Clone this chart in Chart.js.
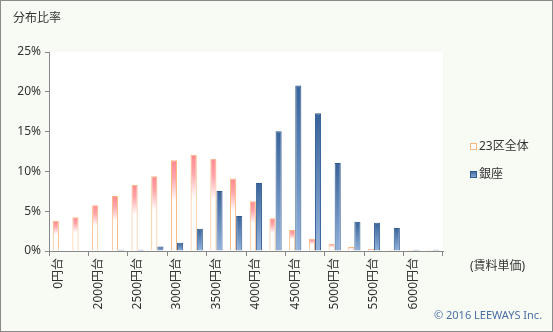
<!DOCTYPE html>
<html>
<head>
<meta charset="utf-8">
<script src="https://cdn.jsdelivr.net/npm/chart.js@4"></script>
<style>
  html, body { margin: 0; padding: 0; background: #fff; }
  #wrap { width: 553px; height: 332px; }
</style>
</head>
<body>
<div id="wrap"><canvas id="rentChart" width="553" height="332"></canvas></div>
<script>
// 賃料単価の区分 (250円刻み、ラベルは1つおき)
const categories = ["0円台","1750円台","2000円台","2250円台","2500円台","2750円台","3000円台","3250円台","3500円台","3750円台",
    "4000円台","4250円台","4500円台","4750円台","5000円台","5250円台","5500円台","5750円台","6000円台","6250円台"];
const wardsAll = [3.8, 4.25, 5.75, 6.9, 8.3, 9.4, 11.4, 12.1, 11.6, 9.1,
    6.25, 4.1, 2.65, 1.55, 0.9, 0.5, 0.25, 0.15, 0.15, 0.15];
const ginza = [0, 0, 0, 0.15, 0.15, 0.55, 1.05, 2.8, 7.55, 4.4,
    8.55, 15.05, 20.8, 17.3, 11.05, 3.67, 3.55, 2.9, 0.15, 0.15];
const yTicks = [0, 5, 10, 15, 20, 25];
const seriesNames = ["23区全体", "銀座"];

const FONT = '"Noto Sans", "Noto Sans CJK JP", sans-serif';

function barGradient(ctx, stops, fallback){
    const chart = ctx.chart;
    if(!chart.chartArea || ctx.parsed === undefined) return fallback;
    const y = chart.scales.y;
    const top = y.getPixelForValue(ctx.parsed.y);
    const bottom = y.getPixelForValue(0);
    if(bottom - top < 1) return fallback;
    const g = chart.ctx.createLinearGradient(0, top, 0, bottom);
    stops.forEach(s => g.addColorStop(s[0], s[1]));
    return g;
}

const pinkStops = [[0, "#ff8a90"], [0.18, "#ffa3a8"], [0.45, "#ffffff"], [1, "#ffffff"]];
const blueStops = [[0, "#386399"], [1, "#93b3dc"]];

const decor = {
    id: "decor",
    beforeDraw(chart){
        const c = chart.ctx, a = chart.chartArea;
        c.save();
        c.fillStyle = "#f8fbf4";
        c.fillRect(0, 0, chart.width, chart.height);
        c.fillStyle = "#ffffff";
        c.fillRect(a.left, a.top, a.right - a.left, a.bottom - a.top);
        c.restore();
    },
    afterDraw(chart){
        const c = chart.ctx;
        c.save();
        c.textBaseline = "middle";
        c.fillStyle = "#333";
        c.font = "12px " + FONT;
        c.fillText("分布比率", 13, 19);
        c.fillText("(賃料単価)", 470, 267);

        // legend
        c.fillText(seriesNames[0], 479, 147);
        c.fillText(seriesNames[1], 479, 175);
        c.fillStyle = "#ffffff";
        c.fillRect(470.5, 143.5, 6, 6);
        c.strokeStyle = "#f8b67c";
        c.lineWidth = 1;
        c.strokeRect(470.5, 143.5, 6, 6);
        const g = c.createLinearGradient(0, 171, 0, 178);
        g.addColorStop(0, "#386399");
        g.addColorStop(1, "#93b3dc");
        c.fillStyle = g;
        c.fillRect(470.5, 171.5, 6, 6);
        c.strokeStyle = "#2f5a92";
        c.strokeRect(470.5, 171.5, 6, 6);

        c.fillStyle = "#4a6ea6";
        c.font = "11px " + FONT;
        c.fillText("© 2016 LEEWAYS Inc.", 434, 316);

        c.strokeStyle = "#8a8a8a";
        c.strokeRect(0.5, 0.5, chart.width - 1, chart.height - 1);
        c.restore();
    }
};

new Chart(document.getElementById("rentChart"), {
    type: "bar",
    data: {
        labels: categories,
        datasets: [
            {
                label: seriesNames[0],
                data: wardsAll,
                backgroundColor: ctx => barGradient(ctx, pinkStops, "#ffc0c0"),
                borderColor: "#f8b67c",
                borderWidth: 1,
                categoryPercentage: 0.62,
                barPercentage: 1.0
            },
            {
                label: seriesNames[1],
                data: ginza,
                backgroundColor: ctx => barGradient(ctx, blueStops, "#5a80b5"),
                borderColor: "#2f5a92",
                borderWidth: 1,
                categoryPercentage: 0.62,
                barPercentage: 1.0
            }
        ]
    },
    options: {
        responsive: false,
        animation: false,
        layout: {padding: {left: 0, top: 52, right: 110, bottom: 0}},
        plugins: {
            legend: {display: false},
            tooltip: {enabled: false}
        },
        scales: {
            x: {
                afterFit: s => { s.height = 81; },
                grid: {
                    offset: true,
                    drawOnChartArea: false,
                    tickLength: 5,
                    tickColor: ctx => (ctx.index === undefined || ctx.index % 2 === 0) ? "#888" : "rgba(0,0,0,0)"
                },
                border: {color: "#888"},
                ticks: {
                    autoSkip: false,
                    minRotation: 90,
                    maxRotation: 90,
                    padding: 2,
                    color: "#333",
                    font: {family: FONT, size: 12},
                    callback: function(v, i){ return i % 2 === 0 ? categories[i] : ""; }
                }
            },
            y: {
                min: yTicks[0],
                max: yTicks[yTicks.length - 1],
                afterFit: s => { s.width = 49; },
                afterBuildTicks: s => { s.ticks = yTicks.map(v => ({value: v})); },
                grid: {drawOnChartArea: false, tickLength: 4, tickColor: "#888"},
                border: {color: "#888"},
                ticks: {
                    padding: 4,
                    color: "#333",
                    font: {family: FONT, size: 12},
                    callback: v => v + "%"
                }
            }
        }
    },
    plugins: [decor]
});
</script>
</body>
</html>
